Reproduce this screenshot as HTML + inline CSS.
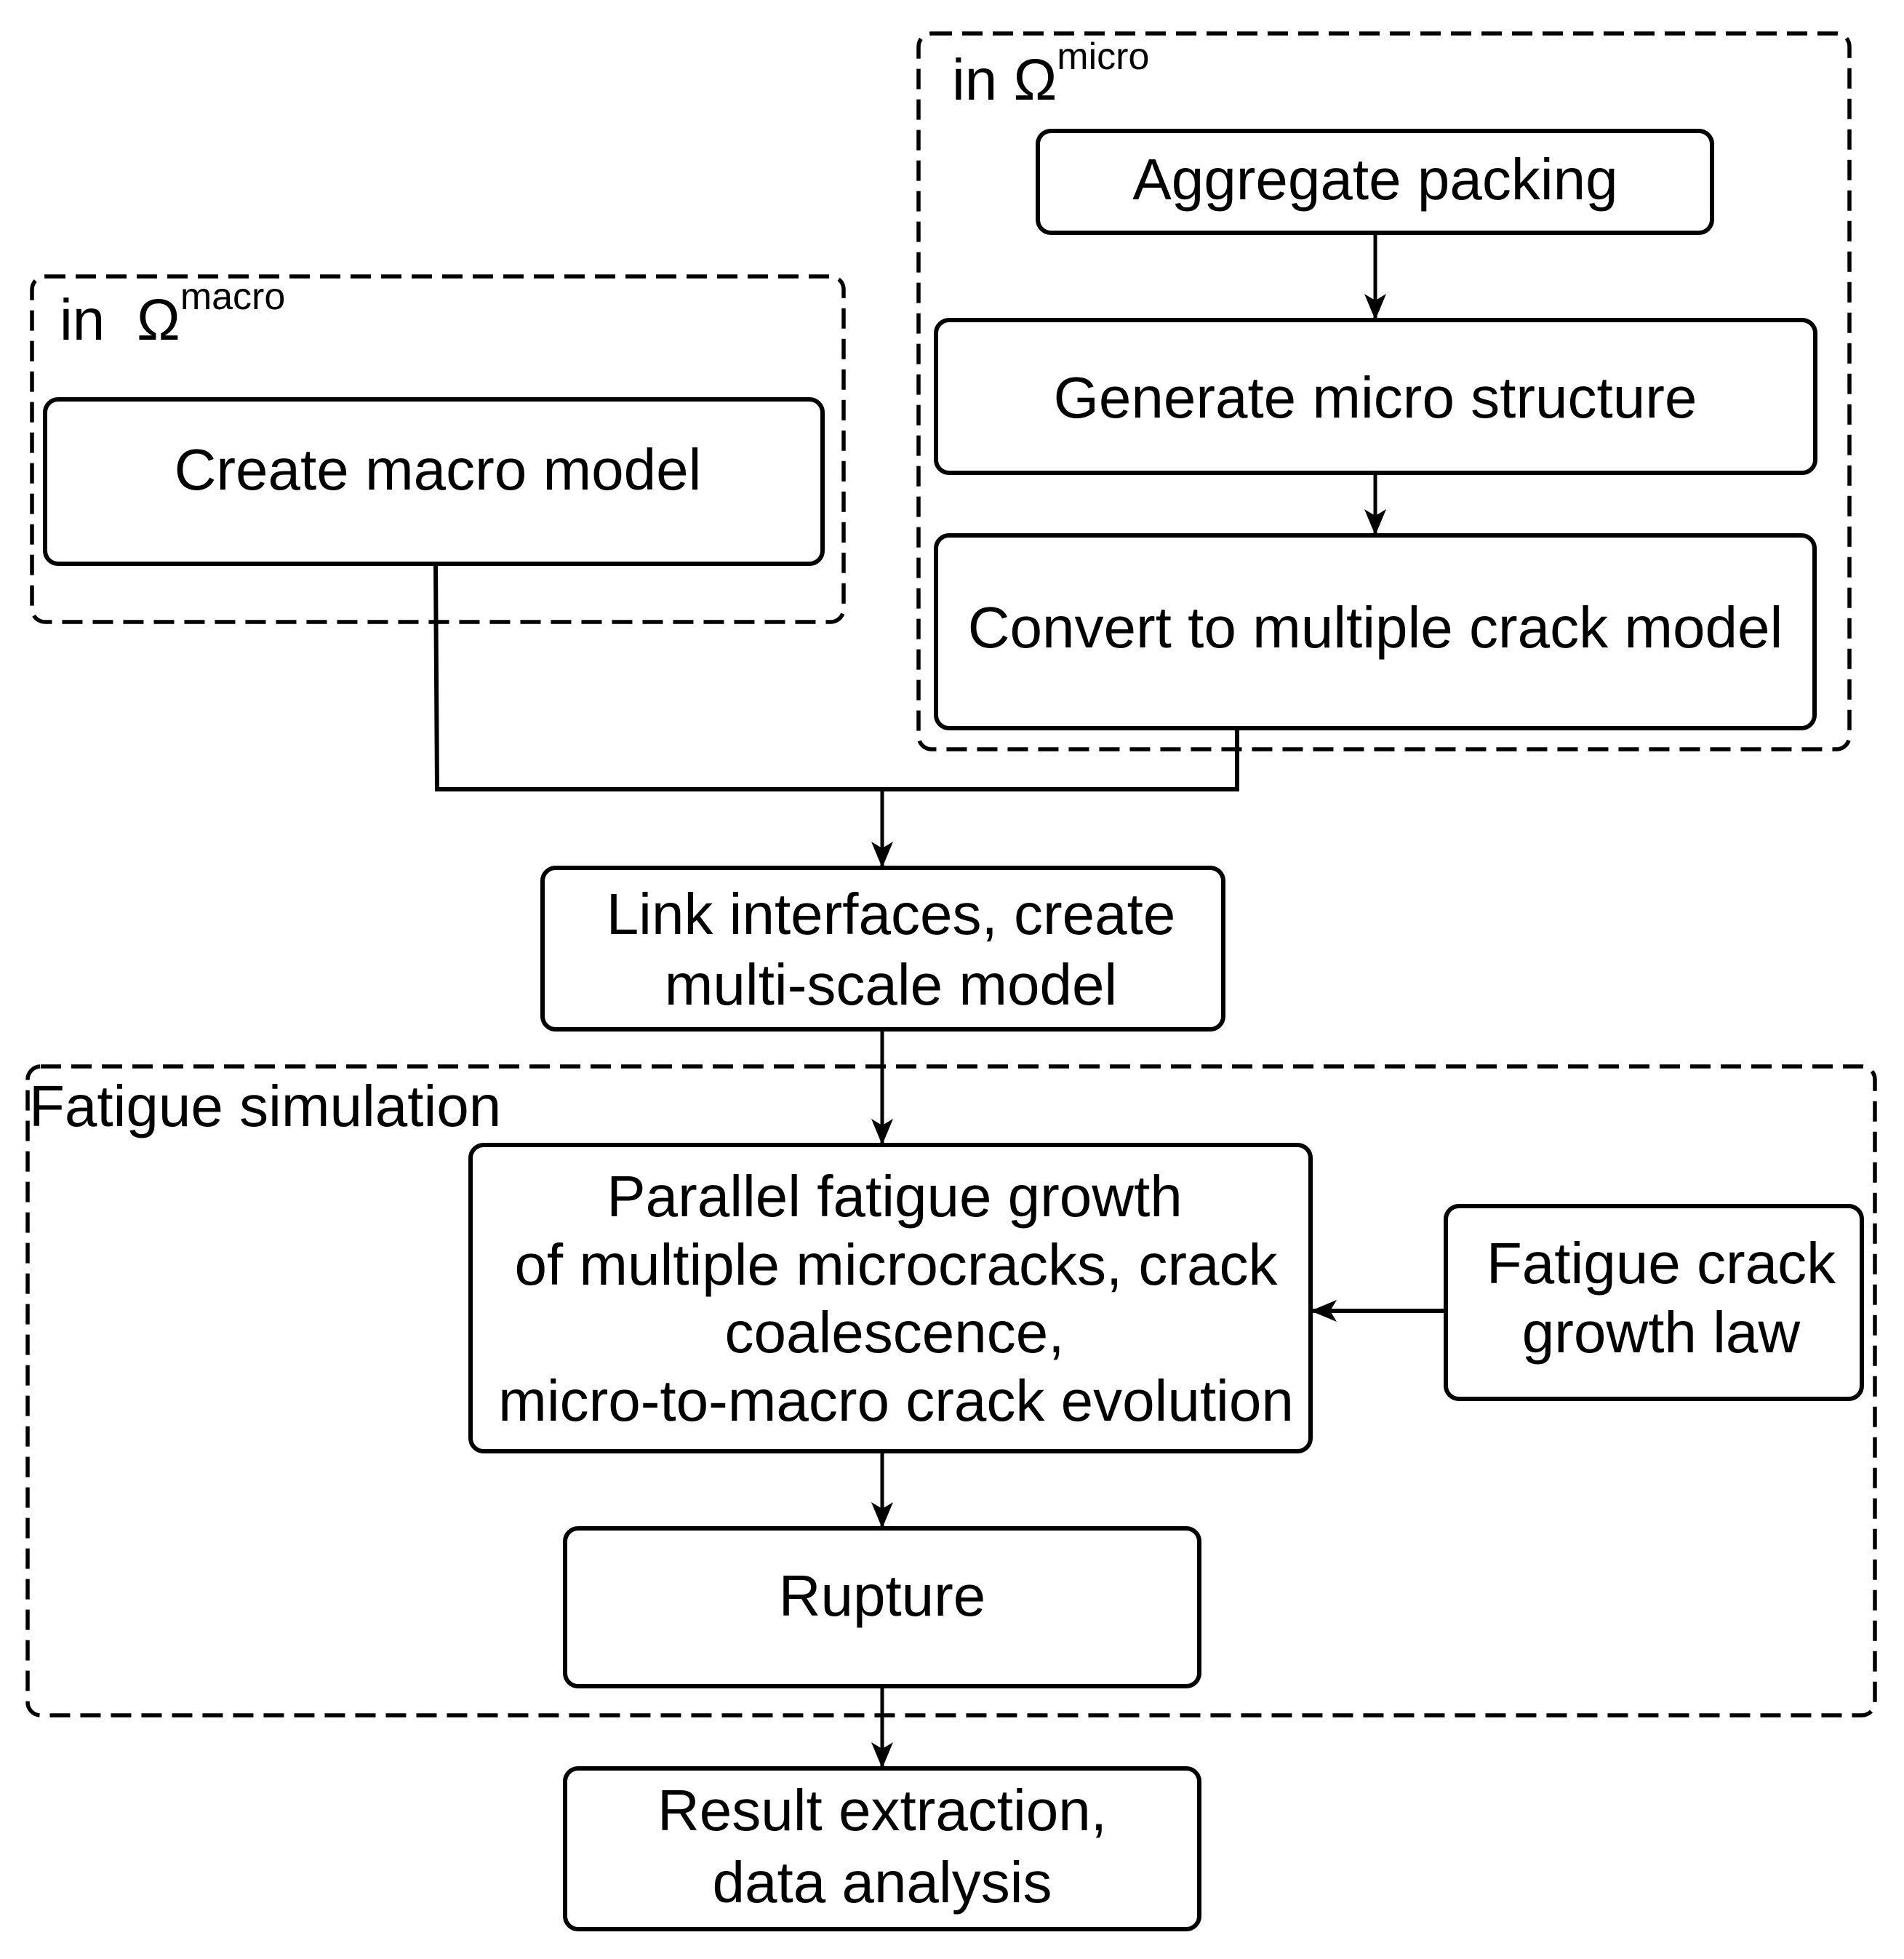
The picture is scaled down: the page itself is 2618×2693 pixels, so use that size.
<!DOCTYPE html>
<html><head><meta charset="utf-8"><style>html,body{margin:0;padding:0;background:#fff}</style></head>
<body>
<svg width="2618" height="2688" viewBox="0 0 2618 2688" xmlns="http://www.w3.org/2000/svg" font-family="Liberation Sans, Arial, sans-serif" font-size="80">
<defs>
<marker id="b" markerWidth="36" markerHeight="30" refX="34" refY="15" orient="auto" markerUnits="userSpaceOnUse"><path d="M0,0 L36,15 L0,30 L9,15 z" fill="#000"/></marker></defs>
<g fill="none" stroke="#000" stroke-width="5.5" stroke-dasharray="28,14">
<rect x="1263" y="46" width="1280" height="984" rx="18"/>
<rect x="44" y="380" width="1116" height="475" rx="18"/>
<rect x="38" y="1466" width="2540" height="892" rx="18"/>
</g>
<g fill="#fff" stroke="#000" stroke-width="6">
<rect x="1427" y="180" width="927" height="140" rx="18"/>
<rect x="1287" y="440" width="1209" height="210" rx="18"/>
<rect x="1287" y="736" width="1208" height="265" rx="18"/>
<rect x="62" y="549" width="1069" height="226" rx="18"/>
<rect x="746" y="1193" width="936" height="222" rx="18"/>
<rect x="647" y="1574" width="1155" height="421" rx="18"/>
<rect x="1988" y="1658" width="572" height="265" rx="18"/>
<rect x="777" y="2101" width="872" height="217" rx="18"/>
<rect x="777" y="2431" width="872" height="221" rx="18"/>
</g>
<g fill="none" stroke="#000" stroke-width="5">
<line x1="1891" y1="320" x2="1891" y2="438" marker-end="url(#b)"/>
<line x1="1891" y1="650" x2="1891" y2="734" marker-end="url(#b)"/>
<polyline points="599,775 601,1085 1701,1085 1701,1001" stroke-width="6"/>
<line x1="1213" y1="1085" x2="1213" y2="1191" marker-end="url(#b)"/>
<line x1="1213" y1="1415" x2="1213" y2="1572" marker-end="url(#b)"/>
<line x1="1988" y1="1802" x2="1804" y2="1802" stroke-width="6" marker-end="url(#b)"/>
<line x1="1213" y1="1995" x2="1213" y2="2099" marker-end="url(#b)"/>
<line x1="1213" y1="2318" x2="1213" y2="2429" marker-end="url(#b)"/>
</g>
<g text-anchor="middle" fill="#000">
<text x="1891" y="274">Aggregate packing</text>
<text x="1891" y="574">Generate micro structure</text>
<text x="1891" y="890">Convert to multiple crack model</text>
<text x="602" y="673">Create macro model</text>
<text x="1225" y="1284">Link interfaces, create</text>
<text x="1225" y="1381">multi-scale model</text>
<text x="1230" y="1672">Parallel fatigue growth</text>
<text x="1232" y="1766">of multiple microcracks, crack</text>
<text x="1230" y="1859">coalescence,</text>
<text x="1232" y="1953">micro-to-macro crack evolution</text>
<text x="2284" y="1764">Fatigue crack</text>
<text x="2284" y="1859">growth law</text>
<text x="1213" y="2221">Rupture</text>
<text x="1213" y="2516">Result extraction,</text>
<text x="1213" y="2615">data analysis</text>
</g>
<text x="1309" y="137">in Ω<tspan font-size="52" dy="-42">micro</tspan></text>
<text x="82" y="467">in<tspan x="188">Ω</tspan><tspan font-size="52" dy="-42">macro</tspan></text>
<text x="40" y="1548">Fatigue simulation</text>
</svg>
</body></html>
